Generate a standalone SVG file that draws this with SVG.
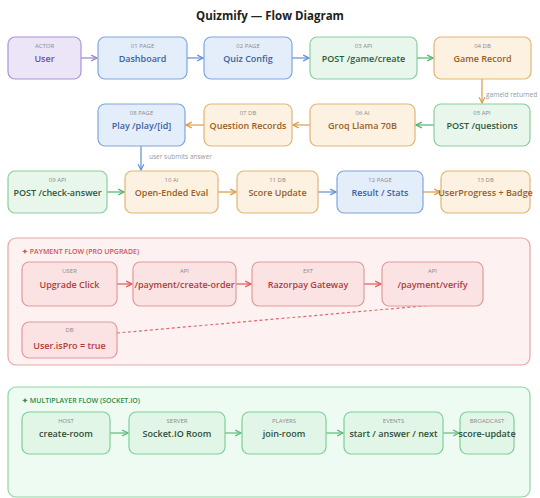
<svg xmlns="http://www.w3.org/2000/svg" width="540" height="498" viewBox="0 0 540 498">
<style>
text{font-family:"Open Sans","Noto Sans","Liberation Sans",sans-serif}
.title{font-size:11.5px;font-weight:700;fill:#222}
.sub{font-size:6px;fill:#8a8a8a}
.lbl{font-size:9px;font-weight:600}
.pu rect{fill:#ece5f8;stroke:#a994d6;stroke-width:1.2}
.pu .lbl{fill:#6b4fa8}
.bl rect{fill:#e4eefb;stroke:#7ea6de;stroke-width:1.2}
.bl .lbl{fill:#3b62a0}
.gr rect{fill:#e8f6ec;stroke:#88cf9c;stroke-width:1.2}
.gr .lbl{fill:#2f5a3c}
.or rect{fill:#fdf1e2;stroke:#e2b574;stroke-width:1.2}
.or .lbl{fill:#9a6022}
.rd rect{fill:#fbe3e3;stroke:#e39a9a;stroke-width:1.2}
.rd .lbl{fill:#b23b3b}
.mg rect{fill:#e2f6e8;stroke:#7fcf98;stroke-width:1.2}
.mg .lbl{fill:#2f4f3a}
.edge{fill:none;stroke-width:1.2}
.note{font-size:6.5px;fill:#999}
.sec{font-size:7px;font-weight:600}
</style>
<defs>
<marker id="aPu" viewBox="0 0 10 10" refX="9" refY="5" markerWidth="6" markerHeight="6" orient="auto"><path d="M1,1 L9,5 L1,9" fill="none" stroke="#9a82cc" stroke-width="1.6"/></marker>
<marker id="aBl" viewBox="0 0 10 10" refX="9" refY="5" markerWidth="6" markerHeight="6" orient="auto"><path d="M1,1 L9,5 L1,9" fill="none" stroke="#5f8fd6" stroke-width="1.6"/></marker>
<marker id="aGr" viewBox="0 0 10 10" refX="9" refY="5" markerWidth="6" markerHeight="6" orient="auto"><path d="M1,1 L9,5 L1,9" fill="none" stroke="#4fb36c" stroke-width="1.6"/></marker>
<marker id="aOr" viewBox="0 0 10 10" refX="9" refY="5" markerWidth="6" markerHeight="6" orient="auto"><path d="M1,1 L9,5 L1,9" fill="none" stroke="#dc9a45" stroke-width="1.6"/></marker>
<marker id="aRd" viewBox="0 0 10 10" refX="9" refY="5" markerWidth="6" markerHeight="6" orient="auto"><path d="M1,1 L9,5 L1,9" fill="none" stroke="#dd5a5a" stroke-width="1.6"/></marker>
<marker id="aMg" viewBox="0 0 10 10" refX="9" refY="5" markerWidth="6" markerHeight="6" orient="auto"><path d="M1,1 L9,5 L1,9" fill="none" stroke="#5cbf7c" stroke-width="1.6"/></marker>
</defs>
<rect width="540" height="498" fill="#ffffff"/>
<text class="title" x="270" y="20" text-anchor="middle">Quizmify — Flow Diagram</text>

<g id="sections">
<rect x="8" y="238" width="522" height="127" rx="8" fill="#fdf1f1" stroke="#eaa5a5" stroke-width="1.2"/>
<text class="sec" x="22" y="254" fill="#d45454">✦ PAYMENT FLOW (PRO UPGRADE)</text>
<rect x="8" y="387" width="522" height="110" rx="8" fill="#eefbf2" stroke="#8fd6a4" stroke-width="1.2"/>
<text class="sec" x="22" y="403" fill="#2f8a4c">✦ MULTIPLAYER FLOW (SOCKET.IO)</text>
</g>

<g id="connectors">
<line class="edge" x1="81" y1="58" x2="97" y2="58" stroke="#9a82cc" marker-end="url(#aPu)"/>
<line class="edge" x1="187" y1="58" x2="203" y2="58" stroke="#5f8fd6" marker-end="url(#aBl)"/>
<line class="edge" x1="292" y1="58" x2="309" y2="58" stroke="#5f8fd6" marker-end="url(#aBl)"/>
<line class="edge" x1="417" y1="58" x2="433" y2="58" stroke="#4fb36c" marker-end="url(#aGr)"/>
<line class="edge" x1="482" y1="79" x2="482" y2="103" stroke="#dc9a45" marker-end="url(#aOr)"/>
<text class="note" x="486" y="97">gameId returned</text>
<line class="edge" x1="434" y1="125" x2="416" y2="125" stroke="#4fb36c" marker-end="url(#aGr)"/>
<line class="edge" x1="310" y1="125" x2="293" y2="125" stroke="#dc9a45" marker-end="url(#aOr)"/>
<line class="edge" x1="204" y1="125" x2="186" y2="125" stroke="#dc9a45" marker-end="url(#aOr)"/>
<line class="edge" x1="141" y1="146" x2="141" y2="170" stroke="#5f8fd6" marker-end="url(#aBl)"/>
<text class="note" x="149" y="159">user submits answer</text>
<line class="edge" x1="107" y1="192" x2="124" y2="192" stroke="#4fb36c" marker-end="url(#aGr)"/>
<line class="edge" x1="218" y1="192" x2="236" y2="192" stroke="#dc9a45" marker-end="url(#aOr)"/>
<line class="edge" x1="318" y1="192" x2="336" y2="192" stroke="#5f8fd6" marker-end="url(#aBl)"/>
<line class="edge" x1="423" y1="192" x2="440" y2="192" stroke="#dc9a45" marker-end="url(#aOr)"/>
<line class="edge" x1="117" y1="284" x2="132" y2="284" stroke="#dd5a5a" marker-end="url(#aRd)"/>
<line class="edge" x1="236" y1="284" x2="251" y2="284" stroke="#dd5a5a" marker-end="url(#aRd)"/>
<line class="edge" x1="364" y1="284" x2="381" y2="284" stroke="#dd5a5a" marker-end="url(#aRd)"/>
<line class="edge" x1="117" y1="333" x2="434" y2="305" stroke="#dd6a6a" stroke-dasharray="3,2.5"/>
<line class="edge" x1="110" y1="433" x2="128" y2="433" stroke="#5cbf7c" marker-end="url(#aMg)"/>
<line class="edge" x1="225" y1="433" x2="241" y2="433" stroke="#5cbf7c" marker-end="url(#aMg)"/>
<line class="edge" x1="326" y1="433" x2="343" y2="433" stroke="#5cbf7c" marker-end="url(#aMg)"/>
<line class="edge" x1="443" y1="433" x2="459" y2="433" stroke="#5cbf7c" marker-end="url(#aMg)"/>
</g>

<g id="user" class="pu"><rect x="8" y="37" width="73" height="42" rx="7"/><text class="sub" x="44.5" y="48" text-anchor="middle">ACTOR</text><text class="lbl" x="44.5" y="62" text-anchor="middle">User</text></g>
<g id="dashboard" class="bl"><rect x="98" y="37" width="89" height="42" rx="7"/><text class="sub" x="142.5" y="48" text-anchor="middle">01 PAGE</text><text class="lbl" x="142.5" y="62" text-anchor="middle">Dashboard</text></g>
<g id="quiz-config" class="bl"><rect x="204" y="37" width="88" height="42" rx="7"/><text class="sub" x="248" y="48" text-anchor="middle">02 PAGE</text><text class="lbl" x="248" y="62" text-anchor="middle">Quiz Config</text></g>
<g id="game-create" class="gr"><rect x="310" y="37" width="107" height="42" rx="7"/><text class="sub" x="363.5" y="48" text-anchor="middle">03 API</text><text class="lbl" x="363.5" y="62" text-anchor="middle">POST /game/create</text></g>
<g id="game-record" class="or"><rect x="434" y="37" width="97" height="42" rx="7"/><text class="sub" x="482.5" y="48" text-anchor="middle">04 DB</text><text class="lbl" x="482.5" y="62" text-anchor="middle">Game Record</text></g>

<g id="post-questions" class="gr"><rect x="434" y="104" width="96" height="42" rx="7"/><text class="sub" x="482" y="115" text-anchor="middle">05 API</text><text class="lbl" x="482" y="129" text-anchor="middle">POST /questions</text></g>
<g id="groq" class="or"><rect x="310" y="104" width="105" height="42" rx="7"/><text class="sub" x="362.5" y="115" text-anchor="middle">06 AI</text><text class="lbl" x="362.5" y="129" text-anchor="middle">Groq Llama 70B</text></g>
<g id="question-records" class="or"><rect x="204" y="104" width="88" height="42" rx="7"/><text class="sub" x="248" y="115" text-anchor="middle">07 DB</text><text class="lbl" x="248" y="129" text-anchor="middle">Question Records</text></g>
<g id="play" class="bl"><rect x="98" y="104" width="87" height="42" rx="7" stroke-width="1.6"/><text class="sub" x="141.5" y="115" text-anchor="middle">08 PAGE</text><text class="lbl" x="141.5" y="129" text-anchor="middle">Play /play/[id]</text></g>

<g id="check-answer" class="gr"><rect x="8" y="171" width="99" height="42" rx="7"/><text class="sub" x="57.5" y="182" text-anchor="middle">09 API</text><text class="lbl" x="57.5" y="196" text-anchor="middle">POST /check-answer</text></g>
<g id="open-eval" class="or"><rect x="125" y="171" width="93" height="42" rx="7" stroke-width="1.6"/><text class="sub" x="171.5" y="182" text-anchor="middle">10 AI</text><text class="lbl" x="171.5" y="196" text-anchor="middle">Open-Ended Eval</text></g>
<g id="score-update" class="or"><rect x="237" y="171" width="81" height="42" rx="7"/><text class="sub" x="277.5" y="182" text-anchor="middle">11 DB</text><text class="lbl" x="277.5" y="196" text-anchor="middle">Score Update</text></g>
<g id="result" class="bl"><rect x="337" y="171" width="86" height="42" rx="7"/><text class="sub" x="380" y="182" text-anchor="middle">12 PAGE</text><text class="lbl" x="380" y="196" text-anchor="middle">Result / Stats</text></g>
<g id="user-progress" class="or"><rect x="441" y="171" width="89" height="42" rx="7"/><text class="sub" x="485.5" y="182" text-anchor="middle">13 DB</text><text class="lbl" x="485.5" y="196" text-anchor="middle">UserProgress + Badge</text></g>

<g id="upgrade-click" class="rd"><rect x="22" y="262" width="95" height="44" rx="7"/><text class="sub" x="69.5" y="273" text-anchor="middle">USER</text><text class="lbl" x="69.5" y="288" text-anchor="middle">Upgrade Click</text></g>
<g id="create-order" class="rd"><rect x="133" y="262" width="103" height="44" rx="7"/><text class="sub" x="184.5" y="273" text-anchor="middle">API</text><text class="lbl" x="184.5" y="288" text-anchor="middle">/payment/create-order</text></g>
<g id="razorpay" class="rd"><rect x="252" y="262" width="112" height="44" rx="7"/><text class="sub" x="308" y="273" text-anchor="middle">EXT</text><text class="lbl" x="308" y="288" text-anchor="middle">Razorpay Gateway</text></g>
<g id="verify" class="rd"><rect x="382" y="262" width="101" height="44" rx="7"/><text class="sub" x="432.5" y="273" text-anchor="middle">API</text><text class="lbl" x="432.5" y="288" text-anchor="middle">/payment/verify</text></g>
<g id="ispro" class="rd"><rect x="22" y="322" width="95" height="36" rx="7"/><text class="sub" x="69.5" y="332" text-anchor="middle">DB</text><text class="lbl" x="69.5" y="349" text-anchor="middle">User.isPro = true</text></g>

<g id="create-room" class="mg"><rect x="22" y="412" width="88" height="42" rx="7"/><text class="sub" x="66" y="423" text-anchor="middle">HOST</text><text class="lbl" x="66" y="437" text-anchor="middle">create-room</text></g>
<g id="socket-room" class="mg"><rect x="129" y="412" width="96" height="42" rx="7"/><text class="sub" x="177" y="423" text-anchor="middle">SERVER</text><text class="lbl" x="177" y="437" text-anchor="middle">Socket.IO Room</text></g>
<g id="join-room" class="mg"><rect x="242" y="412" width="84" height="42" rx="7"/><text class="sub" x="284" y="423" text-anchor="middle">PLAYERS</text><text class="lbl" x="284" y="437" text-anchor="middle">join-room</text></g>
<g id="events" class="mg"><rect x="344" y="412" width="99" height="42" rx="7"/><text class="sub" x="393.5" y="423" text-anchor="middle">EVENTS</text><text class="lbl" x="393.5" y="437" text-anchor="middle">start / answer / next</text></g>
<g id="broadcast" class="mg"><rect x="460" y="412" width="54" height="42" rx="7"/><text class="sub" x="487" y="423" text-anchor="middle">BROADCAST</text><text class="lbl" x="487" y="437" text-anchor="middle">score-update</text></g>
</svg>
